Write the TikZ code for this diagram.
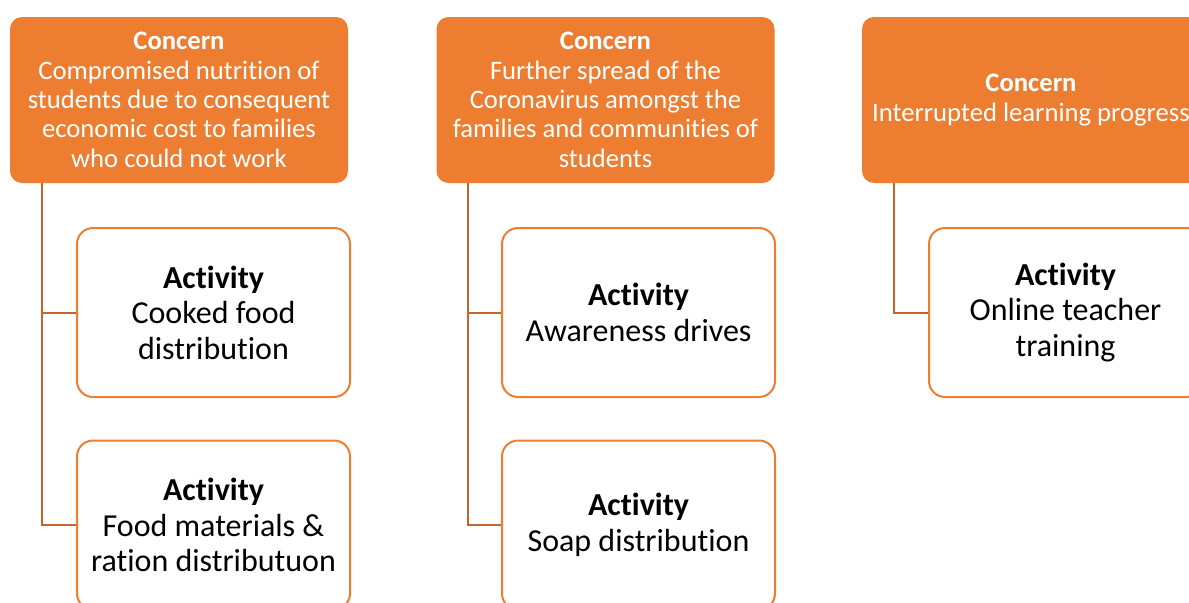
\documentclass[tikz,border=0pt]{standalone}
\usepackage{fontspec}
\setmainfont[Ligatures={NoCommon}]{Carlito}
\definecolor{concernorange}{RGB}{237,125,49}
\definecolor{linkbrown}{RGB}{197,100,45}

\begin{document}
\begin{tikzpicture}[x=0.75pt, y=-0.75pt,
        concern/.style={rectangle, rounded corners=9pt, fill=concernorange, text=white, align=center,
            minimum width=253.5pt, minimum height=124.5pt, inner sep=0pt, font=\fontsize{20}{22}\selectfont},
        activity/.style={rectangle, rounded corners=12pt, draw=concernorange, line width=1.5pt, fill=white,
            align=center, minimum width=204.75pt, minimum height=126.75pt, inner sep=0pt,
            font=\fontsize{24}{26.6}\selectfont},
        link/.style={draw=linkbrown, line width=1.5pt}]
        \clip (0, 0) rectangle (1189, 603);
        \fill[white] (0, 0) rectangle (1189, 603);

        \node[concern] (concernA) at (179, 100) {\textbf{Concern}\\Compromised nutrition of\\students due to consequent\\economic cost to families\\who could not work};
        \node[concern] (concernB) at (605.5, 100) {\textbf{Concern}\\Further spread of the\\Coronavirus amongst the\\families and communities of\\students};
        \node[concern] (concernC) at (1031, 100) {\textbf{Concern}\\Interrupted learning progress};

        \node[activity] (actA1) at (213.5, 312.5) {\textbf{Activity}\\Cooked food\\distribution};
        \node[activity] (actA2) at (213.5, 525) {\textbf{Activity}\\Food materials \&\\ration distributuon};
        \node[activity] (actB1) at (638.5, 312.5) {\textbf{Activity}\\Awareness drives};
        \node[activity] (actB2) at (638.5, 525) {\textbf{Activity}\\Soap distribution};
        \node[activity] (actC1) at (1065.5, 312.5) {\textbf{Activity}\\Online teacher\\training};

        \draw[link] ([xshift=24pt]concernA.south west) |- (actA1.west);
        \draw[link] ([xshift=24pt]concernA.south west) |- (actA2.west);
        \draw[link] ([xshift=24pt]concernB.south west) |- (actB1.west);
        \draw[link] ([xshift=24pt]concernB.south west) |- (actB2.west);
        \draw[link] ([xshift=24pt]concernC.south west) |- (actC1.west);
    \end{tikzpicture}
\end{document}
